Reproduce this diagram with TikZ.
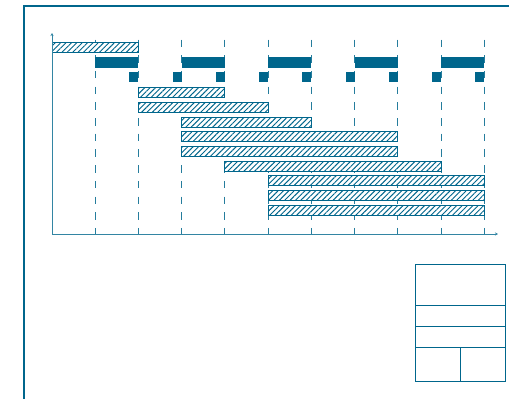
\documentclass[tikz,border=0pt]{standalone}
\usetikzlibrary{patterns.meta,arrows.meta}
\definecolor{tealc}{HTML}{00668C}
\tikzset{
  frameline/.style={draw=tealc, line width=2pt},
  axisline/.style={draw=tealc!80, line width=0.9pt, -{Stealth[length=3pt,width=3pt]}},
  gridline/.style={draw=tealc!85, line width=0.9pt, dash pattern=on 7.5pt off 8.2pt},
  hatchbar/.style={draw=tealc, line width=1pt, fill=white,
    postaction={pattern={Lines[angle=45,distance=3.8pt,line width=0.95pt]}, pattern color=tealc}},
  solidbar/.style={fill=tealc, draw=none},
  blockline/.style={draw=tealc, line width=1pt}
}
\newcommand{\hatchbarat}[3]{\path[hatchbar] ({52+43.23*#1},{#3-5}) rectangle ({52+43.23*#2},{#3+5});}
\begin{document}
\begin{tikzpicture}[x=1pt,y=-1pt]
\useasboundingbox (0,0) rectangle (509,399);
% frame
\draw[frameline] (24,400) -- (24,6) -- (510,6);
% grid
\foreach \i in {1,...,10}{
  \draw[gridline] ({52+43.23*\i},39.5) -- ({52+43.23*\i},234);
}
% bars
\hatchbarat{0}{2}{47.7}
\foreach \a in {1,3,5,7,9}{
  \fill[solidbar] ({52+43.23*\a},57.3) rectangle ({52+43.23*(\a+1)},67.7);
}
\foreach \a in {2,...,10}{
  \fill[solidbar] ({52+43.23*\a-9},72) rectangle ({52+43.23*\a},82.3);
}
\hatchbarat{2}{4}{92.3}
\hatchbarat{2}{5}{107}
\hatchbarat{3}{6}{122}
\hatchbarat{3}{8}{136.7}
\hatchbarat{3}{8}{151.3}
\hatchbarat{4}{9}{166.3}
\hatchbarat{5}{10}{180.7}
\hatchbarat{5}{10}{195.7}
\hatchbarat{5}{10}{210.7}
% axes
\draw[axisline] (52,234) -- (52,33);
\draw[axisline] (52,234) -- (498,234);
% title block
\draw[blockline] (415,264.5) rectangle (505.5,381.5);
\draw[blockline] (415,305) -- (505.5,305);
\draw[blockline] (415,326) -- (505.5,326);
\draw[blockline] (415,347) -- (505.5,347);
\draw[blockline] (460,347) -- (460,381.5);
\end{tikzpicture}
\end{document}
